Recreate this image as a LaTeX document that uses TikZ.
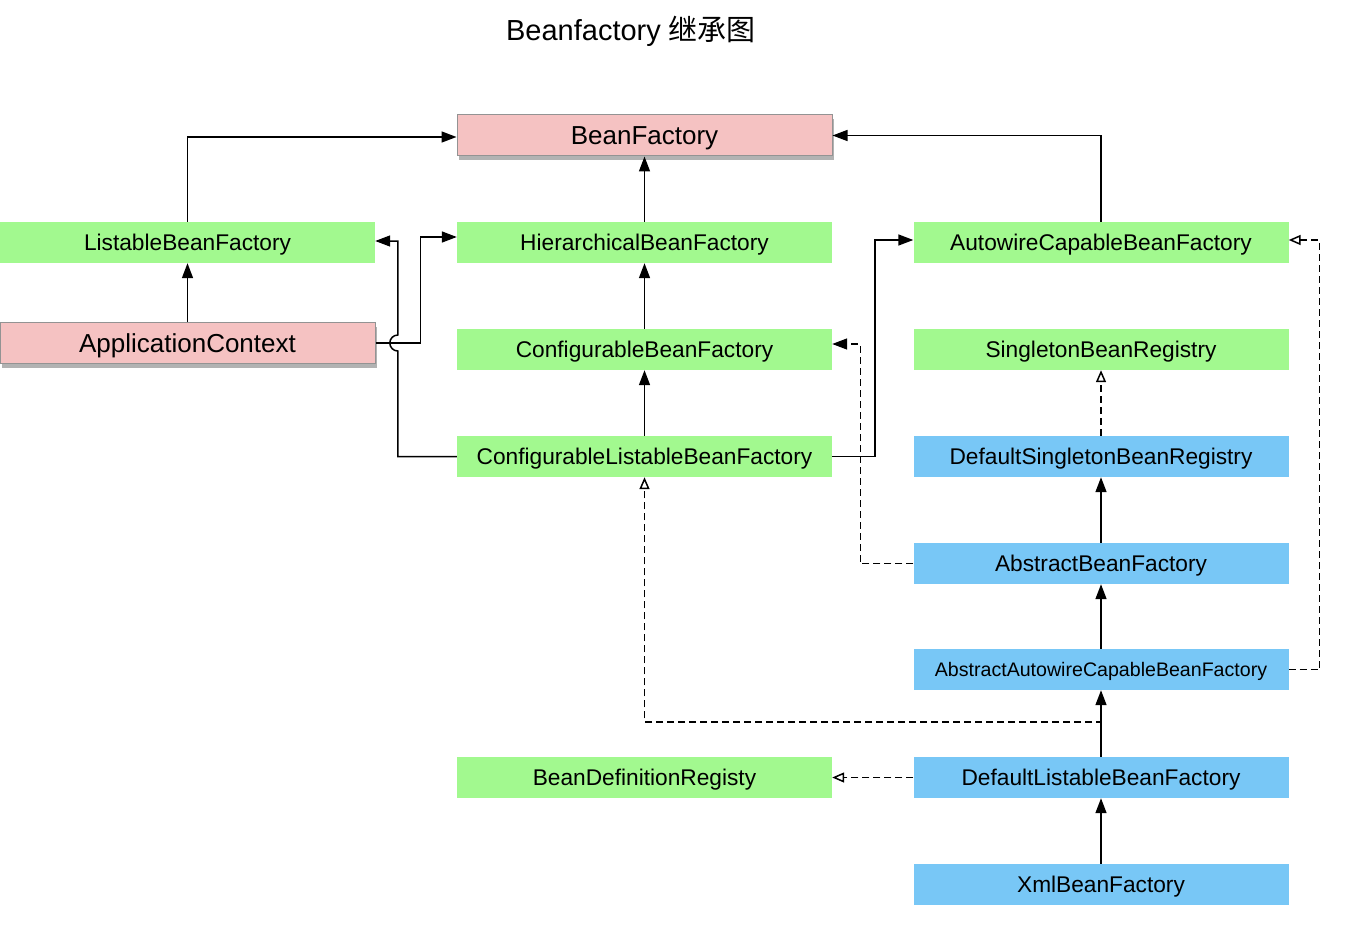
\documentclass[tikz,border=0pt]{standalone}
\usepackage{fontspec}
\setmainfont{Liberation Sans}
\newfontfamily\cjk{Noto Sans CJK SC}
\usetikzlibrary{arrows.meta,shadows}

\definecolor{ifacegreen}{HTML}{A2F98F}
\definecolor{implblue}{HTML}{78C7F6}
\definecolor{ctxpink}{HTML}{F5C2C2}

\tikzset{
  box/.style={minimum width=375pt, minimum height=41pt, inner sep=0pt,
    text height=16.3pt, text depth=0pt, font=\fontsize{22.7}{26}\selectfont},
  ifacebox/.style={box, fill=ifacegreen},
  implbox/.style={box, fill=implblue},
  smallbox/.style={implbox, text height=14.1pt, font=\fontsize{19.6}{23}\selectfont},
  ctxbox/.style={box, fill=ctxpink, draw=gray!85, line width=1pt,
    text height=18.7pt, font=\fontsize{26}{30}\selectfont,
    drop shadow={shadow xshift=2pt, shadow yshift=-4pt, fill=black, opacity=.3}},
  ext/.style={line width=1.5pt, -{Triangle[length=15pt,width=11pt]}},
  dashext/.style={ext, dash pattern=on 7pt off 4pt},
  impl/.style={line width=1.5pt, dash pattern=on 7pt off 4pt, -{Triangle[open,length=12pt,width=10pt]}}
}

\begin{document}
\begin{tikzpicture}[x=1pt, y=1pt]
\useasboundingbox (0,0) rectangle (1348,-936);

\node (title) at (631,-31) {\fontsize{29}{33}\selectfont Beanfactory \cjk 继承图};

\foreach \name/\x/\y/\kind/\label in {
  bf/644.5/-135.5/ctxbox/BeanFactory,
  lbf/187.5/-242.5/ifacebox/ListableBeanFactory,
  hbf/644.5/-242.5/ifacebox/HierarchicalBeanFactory,
  acbf/1101/-242.5/ifacebox/AutowireCapableBeanFactory,
  ac/187.5/-343/ctxbox/ApplicationContext,
  cbf/644.5/-349.5/ifacebox/ConfigurableBeanFactory,
  sbr/1101/-349.5/ifacebox/SingletonBeanRegistry,
  clbf/644.5/-456.5/ifacebox/ConfigurableListableBeanFactory,
  dsbr/1101/-456.5/implbox/DefaultSingletonBeanRegistry,
  abf/1101/-563.5/implbox/AbstractBeanFactory,
  aacbf/1101/-669.5/smallbox/AbstractAutowireCapableBeanFactory,
  bdr/644.5/-777.5/ifacebox/BeanDefinitionRegisty,
  dlbf/1101/-777.5/implbox/DefaultListableBeanFactory,
  xbf/1101/-884.5/implbox/XmlBeanFactory}
    \node[\kind] (\name) at (\x,\y) {\label};

% extends
\draw[ext] (lbf.north) |- ([yshift=-1.5pt]bf.west);
\draw[ext] (hbf) -- (bf);
\draw[ext] (acbf.north) |- (bf.east);
\draw[ext] (ac) -- (lbf);
\draw[ext] (ac.east) -- ++(45,0) |- ([yshift=5.5pt]hbf.west);
\draw[ext] (clbf.west) -- ++(-59,0) -- ++(0,105.5)
    arc[start angle=270, end angle=90, radius=8] |- ([yshift=1.5pt]lbf.east);
\draw[ext] (cbf) -- (hbf);
\draw[ext] (clbf) -- (cbf);
\draw[ext] (clbf.east) -- ++(43,0) |- ([yshift=2.5pt]acbf.west);
\draw[ext] (abf) -- (dsbr);
\draw[ext] (aacbf) -- (abf);
\draw[ext] (dlbf) -- (aacbf);
\draw[ext] (xbf) -- (dlbf);

% implements
\draw[dashext] (abf.west) -- ++(-53,0) |- ([yshift=5.5pt]cbf.east);
\draw[impl] (dsbr) -- (sbr);
\draw[impl] (aacbf.east) -- ++(31,0) |- ([yshift=2.5pt]acbf.east);
\draw[impl] (dlbf.north) -- ++(0,35) -| (clbf.south);
\draw[impl] (dlbf) -- (bdr);

\end{tikzpicture}
\end{document}
